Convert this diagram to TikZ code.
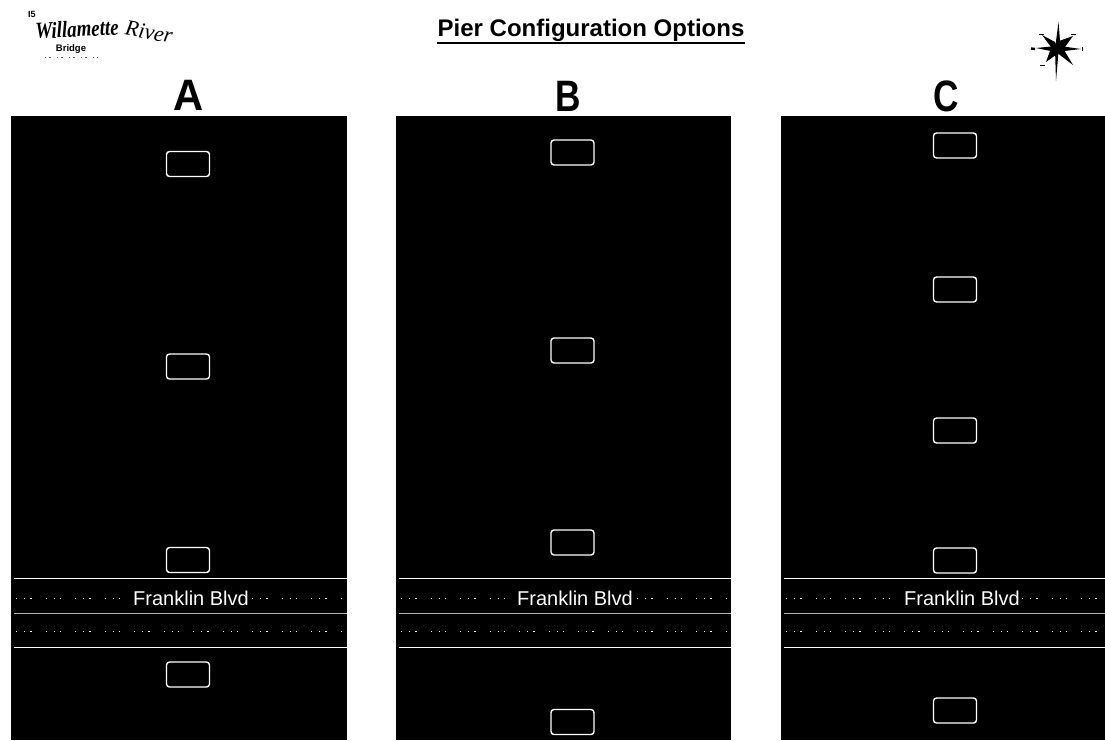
\documentclass[tikz,border=0pt]{standalone}
\usepackage{fontspec}
\setmainfont{Liberation Sans}
\newfontfamily\logofont{Liberation Serif}
\tikzset{
  px/.style={x=1pt,y=-1pt},
  panel/.style={fill=black,draw=none},
  pier/.style={draw=white,fill=black,line width=1.4pt,rounded corners=3pt,minimum width=43pt,minimum height=25pt,inner sep=0pt},
  roadline/.style={draw=white,line width=1pt},
  midline/.style={draw=black!30,line width=1pt},
  laneline/.style={draw=white,line width=0.5pt,dash pattern=on 1pt off 7pt on 1pt off 5pt on 1.5pt off 14pt},
  roadname/.style={text=white,fill=black,inner xsep=1pt,inner ysep=1pt,font=\fontsize{20}{22}\selectfont},
  optionletter/.style={font=\bfseries\fontsize{44}{46}\selectfont,inner sep=0pt},
  ray/.style={fill=black,draw=none},
  tip/.style={draw=black,line width=1.6pt}
}
\newcommand{\roadband}[4]{% left, right, centre of name, prefix
  \draw[roadline] (#1+3,578.5) -- (#2,578.5);
  \draw[midline] (#1+3,613.5) -- (#2,613.5);
  \draw[roadline] (#1+3,647.5) -- (#2,647.5);
  \draw[laneline] (#1+5,598) -- (#2,598);
  \draw[laneline] (#1+5,631) -- (#2,631);
  \node[roadname] (#4road) at (#3,598) {Franklin Blvd};
}
\begin{document}
\begin{tikzpicture}[px]
\useasboundingbox (0,0) rectangle (1105,740);
\fill[white] (0,0) rectangle (1105,740);

% Panels
\path[panel] (11,116) rectangle (347,740);
\path[panel] (396,116) rectangle (731,740);
\path[panel] (781,116) rectangle (1105,740);

% Headings
\node[inner sep=0pt,font=\bfseries\fontsize{24}{26}\selectfont] (title) at (591,30) {Pier Configuration Options};
\draw[line width=1.6pt] (437,43) -- (745,43);
\node[optionletter,xscale=0.95] (la) at (189,95) {A};
\node[optionletter,xscale=0.8] (lb) at (568,96) {B};
\node[optionletter,xscale=0.8] (lc) at (946,96) {C};

% Roads
\roadband{11}{347}{191}{a}
\roadband{396}{731}{575}{b}
\roadband{781}{1105}{962}{c}

% Piers A
\node[pier] (a1) at (188,164) {};
\node[pier] (a2) at (188,366.5) {};
\node[pier] (a3) at (188,560) {};
\node[pier] (a4) at (188,674.5) {};
% Piers B
\node[pier] (b1) at (572.5,152.5) {};
\node[pier] (b2) at (572.5,350.5) {};
\node[pier] (b3) at (572.5,542.5) {};
\node[pier] (b4) at (572.5,722) {};
% Piers C
\node[pier] (c1) at (955,145.5) {};
\node[pier] (c2) at (955,289.5) {};
\node[pier] (c3) at (955,430.5) {};
\node[pier] (c4) at (955,560.5) {};
\node[pier] (c5) at (955,710.5) {};

% Logo
\node[inner sep=0pt,font=\bfseries\fontsize{9}{10}\selectfont] (i5) at (32,14) {I5};
\node[inner sep=0pt,rotate=3,font=\logofont\itshape\bfseries\fontsize{23}{25}\selectfont,xscale=0.82] (will) at (77,29) {Willamette};
\node[inner sep=0pt,rotate=-10,font=\logofont\itshape\fontsize{22}{24}\selectfont] (river) at (149,32) {River};
\node[inner sep=0pt,font=\bfseries\fontsize{9.5}{10}\selectfont] (bridge) at (71,49) {Bridge};
\draw[line width=0.5pt,black!60,dash pattern=on 1pt off 3pt on 2pt off 6pt] (45,57) -- (98,57);

% Compass
\coordinate (cc) at (1058,49);
\fill[ray] (1058.5,22) -- (1060.5,47) -- (1061,49) -- (1058.5,52) -- (1056,81) -- (1055,49) -- cycle;
\fill[ray] (1081,49) -- (1060,46) -- (1058,49) -- (1060,51.5) -- cycle;
\fill[ray] (1036,48) -- (1056,46) -- (1058,49) -- (1056,52) -- cycle;
\fill[ray] (1073,36) -- (1059,41) -- (1062,51) -- cycle;
\fill[ray] (1042,35) -- (1055,42) -- (1058,50) -- (1051,47) -- cycle;
\fill[ray] (1046,62) -- (1051,48) -- (1060,52) -- cycle;
\fill[ray] (1073,65) -- (1056,52) -- (1061,45) -- cycle;
\draw[tip] (1039,34.5) -- (1044,34.5);
\draw[tip] (1071,34.5) -- (1076,34.5);
\draw[tip] (1040,65.5) -- (1045,65.5);
\draw[line width=2.4pt] (1031,48.5) -- (1035,49);
\draw[line width=1pt] (1082,47) -- (1082,51);
\end{tikzpicture}
\end{document}
